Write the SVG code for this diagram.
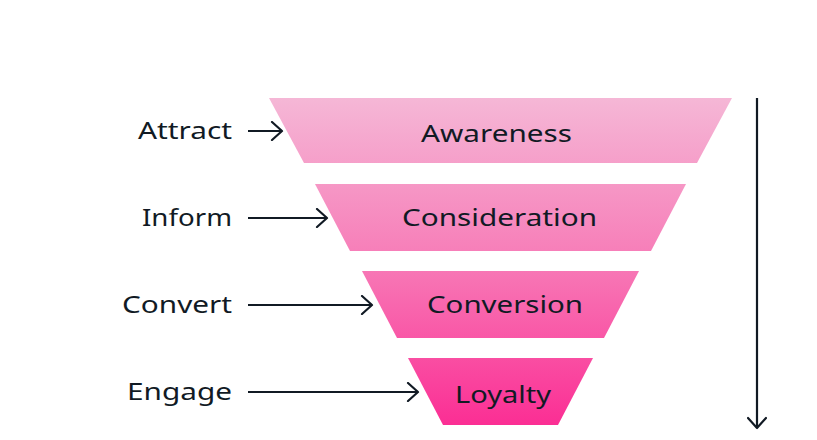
<svg xmlns="http://www.w3.org/2000/svg" width="817" height="440" viewBox="0 0 817 440">
<defs>
<linearGradient id="g" gradientUnits="userSpaceOnUse" x1="0" y1="98" x2="0" y2="425">
<stop offset="0" stop-color="#f5b7d6"/>
<stop offset="0.5" stop-color="#f77bb7"/>
<stop offset="1" stop-color="#fb2e94"/>
</linearGradient>
<marker id="ah" markerWidth="14" markerHeight="20" refX="12" refY="10" orient="auto" markerUnits="userSpaceOnUse">
<path d="M2,1 L12,10 L2,19" fill="none" stroke="#111a24" stroke-width="2.2" stroke-linecap="round" stroke-linejoin="round"/>
</marker>
</defs>
<style>
.t{font-family:"Noto Sans","Liberation Sans",sans-serif;font-size:24px;fill:#111a24}
.l{font-family:"Noto Sans","Liberation Sans",sans-serif;font-size:24px;fill:#111a24;text-anchor:end}
.c{stroke:#111a24;stroke-width:2.2;fill:none;marker-end:url(#ah)}
</style>
<rect width="817" height="440" fill="#fff"/>
<g id="awareness"><polygon points="269,98 732,98 697,163 304,163" fill="url(#g)"/><text class="t" x="421" y="142" textLength="151" lengthAdjust="spacingAndGlyphs">Awareness</text></g>
<g id="consideration"><polygon points="315,184 686,184 651,251 350,251" fill="url(#g)"/><text class="t" x="402" y="226" textLength="195" lengthAdjust="spacingAndGlyphs">Consideration</text></g>
<g id="conversion"><polygon points="362,271 639,271 604,338 397,338" fill="url(#g)"/><text class="t" x="427" y="313" textLength="156" lengthAdjust="spacingAndGlyphs">Conversion</text></g>
<g id="loyalty"><polygon points="408,358 593,358 558,425 443,425" fill="url(#g)"/><text class="t" x="455" y="403" textLength="96" lengthAdjust="spacingAndGlyphs">Loyalty</text></g>
<g id="attract"><text class="l" x="232" y="139" textLength="94" lengthAdjust="spacingAndGlyphs">Attract</text></g>
<g id="inform"><text class="l" x="232" y="226" textLength="90" lengthAdjust="spacingAndGlyphs">Inform</text></g>
<g id="convert"><text class="l" x="232" y="313" textLength="110" lengthAdjust="spacingAndGlyphs">Convert</text></g>
<g id="engage"><text class="l" x="232" y="400" textLength="105" lengthAdjust="spacingAndGlyphs">Engage</text></g>
<g id="connectors">
<line class="c" x1="248" y1="131" x2="282" y2="131"/>
<line class="c" x1="248" y1="218" x2="327" y2="218"/>
<line class="c" x1="248" y1="305" x2="372" y2="305"/>
<line class="c" x1="248" y1="392" x2="418" y2="392"/>
<line class="c" x1="757" y1="98" x2="757" y2="428"/>
</g>
</svg>
